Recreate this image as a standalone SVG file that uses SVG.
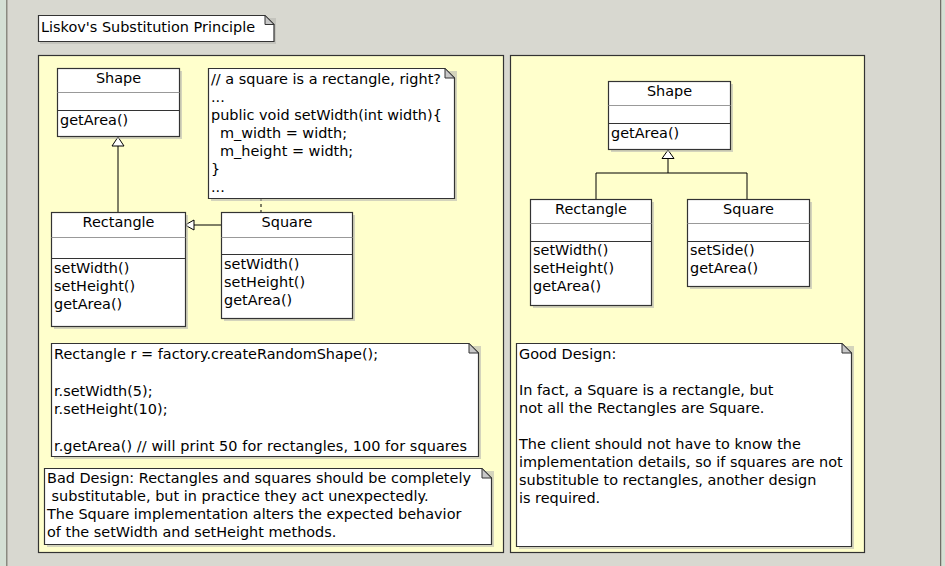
<svg xmlns="http://www.w3.org/2000/svg" width="945" height="566" viewBox="0 0 945 566">
<style>
text{font-family:"DejaVu Sans",sans-serif;font-size:14.45px;fill:#000}
.c{text-anchor:middle}
.box{fill:#fff;stroke:#333;stroke-width:1.2}
.sh{fill:#b8b8b0;opacity:0.6}
.sep{stroke:#999;stroke-width:1}
.sep2{stroke:#333;stroke-width:1}
.panel{fill:#ffffcc;stroke:#333;stroke-width:1.2}
.note{fill:#fff;stroke:#333;stroke-width:1.2}
.fold{fill:#c8c8c8;stroke:#333;stroke-width:1}
.ln{stroke:#000;stroke-width:1;fill:none}
.tri{fill:#fff;stroke:#000;stroke-width:1}
</style>
<rect x="0" y="0" width="945" height="566" fill="#d8d8d0"/>
<rect x="0" y="0" width="6" height="566" fill="#d4e0d4"/>
<rect x="6" y="0" width="1.5" height="566" fill="#8a8a80"/>
<rect x="940" y="0" width="1.5" height="566" fill="#707068"/>
<rect x="941.5" y="0" width="4" height="566" fill="#d4e0d4"/>

<g id="title">
<path class="sh" d="M40,18 H276 V44 H40 Z"/>
<path class="note" d="M38.5,15.5 H265 L274,24.5 V41.5 H38.5 Z"/>
<path class="fold" d="M265,15.5 V24.5 H274 Z"/>
<text x="41" y="32">Liskov's Substitution Principle</text>
</g>

<g id="panel-left">
<rect class="panel" x="38.5" y="55.5" width="465" height="497"/>
</g>
<g id="panel-right">
<rect class="panel" x="510.5" y="55.5" width="354" height="497"/>
</g>

<g id="connectors">
<line class="ln" x1="118" y1="146" x2="118" y2="212"/>
<path class="tri" d="M118,137 L112,146 L124,146 Z"/>
<line class="ln" x1="222" y1="225" x2="194" y2="225"/>
<path class="tri" d="M185,225 L194,220 L194,230 Z"/>
<line class="ln" x1="261" y1="198" x2="261" y2="212" stroke-dasharray="3,3"/>
<path class="ln" d="M668,158 V173 M596,199 V173 H747 V199"/>
<path class="tri" d="M668,150 L662,158.5 L674,158.5 Z"/>
</g>

<g id="left-shape">
<rect class="sh" x="60" y="71" width="122" height="68"/>
<rect class="box" x="57.5" y="68.5" width="122" height="68"/>
<line class="sep" x1="57.5" y1="92.5" x2="179.5" y2="92.5"/>
<line class="sep2" x1="57.5" y1="110.5" x2="179.5" y2="110.5"/>
<text class="c" x="118.5" y="83">Shape</text>
<text x="60" y="125">getArea()</text>
</g>

<g id="note-square">
<path class="sh" d="M211,71 H457 V201 H211 Z"/>
<path class="note" d="M208.5,68.5 H445 L454.5,78 V198.5 H208.5 Z"/>
<path class="fold" d="M445,68.5 V78 H454.5 Z"/>
<text x="211" y="84">// a square is a rectangle, right?</text>
<text x="211" y="102">...</text>
<text x="211" y="120">public void setWidth(int width){</text>
<text x="220" y="138">m_width = width;</text>
<text x="220" y="156">m_height = width;</text>
<text x="211" y="174">}</text>
<text x="211" y="192">...</text>
</g>

<g id="left-rectangle">
<rect class="sh" x="54" y="215" width="134" height="114"/>
<rect class="box" x="51.5" y="212.5" width="134" height="114"/>
<line class="sep" x1="51.5" y1="237.5" x2="185.5" y2="237.5"/>
<line class="sep2" x1="51.5" y1="258.5" x2="185.5" y2="258.5"/>
<text class="c" x="118.5" y="227">Rectangle</text>
<text x="54" y="273">setWidth()</text>
<text x="54" y="291">setHeight()</text>
<text x="54" y="309">getArea()</text>
</g>

<g id="left-square">
<rect class="sh" x="224" y="215" width="131" height="106"/>
<rect class="box" x="221.5" y="212.5" width="131" height="106"/>
<line class="sep" x1="221.5" y1="237.5" x2="352.5" y2="237.5"/>
<line class="sep2" x1="221.5" y1="254.5" x2="352.5" y2="254.5"/>
<text class="c" x="287" y="227">Square</text>
<text x="224" y="269">setWidth()</text>
<text x="224" y="287">setHeight()</text>
<text x="224" y="305">getArea()</text>
</g>

<g id="note-code">
<path class="sh" d="M54,346 H481 V459 H54 Z"/>
<path class="note" d="M51.5,343.5 H469 L478.5,353 V456.5 H51.5 Z"/>
<path class="fold" d="M469,343.5 V353 H478.5 Z"/>
<text x="54" y="359">Rectangle r = factory.createRandomShape();</text>
<text x="54" y="396">r.setWidth(5);</text>
<text x="54" y="414">r.setHeight(10);</text>
<text x="54" y="451" textLength="413" lengthAdjust="spacing">r.getArea() // will print 50 for rectangles, 100 for squares</text>
</g>

<g id="note-bad">
<path class="sh" d="M47,471 H494 V547 H47 Z"/>
<path class="note" d="M44.5,468.5 H482 L491.5,478 V544.5 H44.5 Z"/>
<path class="fold" d="M482,468.5 V478 H491.5 Z"/>
<text x="47" y="483">Bad Design: Rectangles and squares should be completely</text>
<text x="47" y="501" xml:space="preserve"> substitutable, but in practice they act unexpectedly.</text>
<text x="47" y="519">The Square implementation alters the expected behavior</text>
<text x="47" y="537">of the setWidth and setHeight methods.</text>
</g>

<g id="right-shape">
<rect class="sh" x="611" y="84" width="122" height="68"/>
<rect class="box" x="608.5" y="81.5" width="122" height="68"/>
<line class="sep" x1="608.5" y1="105.5" x2="730.5" y2="105.5"/>
<line class="sep2" x1="608.5" y1="123.5" x2="730.5" y2="123.5"/>
<text class="c" x="669.5" y="96">Shape</text>
<text x="611" y="138">getArea()</text>
</g>

<g id="right-rectangle">
<rect class="sh" x="533" y="202" width="121" height="106"/>
<rect class="box" x="530.5" y="199.5" width="121" height="106"/>
<line class="sep" x1="530.5" y1="223.5" x2="651.5" y2="223.5"/>
<line class="sep2" x1="530.5" y1="241.5" x2="651.5" y2="241.5"/>
<text class="c" x="591" y="214">Rectangle</text>
<text x="533" y="255">setWidth()</text>
<text x="533" y="273">setHeight()</text>
<text x="533" y="291">getArea()</text>
</g>

<g id="right-square">
<rect class="sh" x="690" y="202" width="122" height="87"/>
<rect class="box" x="687.5" y="199.5" width="122" height="87"/>
<line class="sep" x1="687.5" y1="223.5" x2="809.5" y2="223.5"/>
<line class="sep2" x1="687.5" y1="241.5" x2="809.5" y2="241.5"/>
<text class="c" x="748.5" y="214">Square</text>
<text x="690" y="255">setSide()</text>
<text x="690" y="273">getArea()</text>
</g>

<g id="note-good">
<path class="sh" d="M519,346 H854 V549 H519 Z"/>
<path class="note" d="M516.5,343.5 H842 L851.5,353 V546.5 H516.5 Z"/>
<path class="fold" d="M842,343.5 V353 H851.5 Z"/>
<text x="519" y="359">Good Design:</text>
<text x="519" y="395">In fact, a Square is a rectangle, but</text>
<text x="519" y="413">not all the Rectangles are Square.</text>
<text x="519" y="449">The client should not have to know the</text>
<text x="519" y="467">implementation details, so if squares are not</text>
<text x="519" y="485">substituble to rectangles, another design</text>
<text x="519" y="503">is required.</text>
</g>
</svg>
